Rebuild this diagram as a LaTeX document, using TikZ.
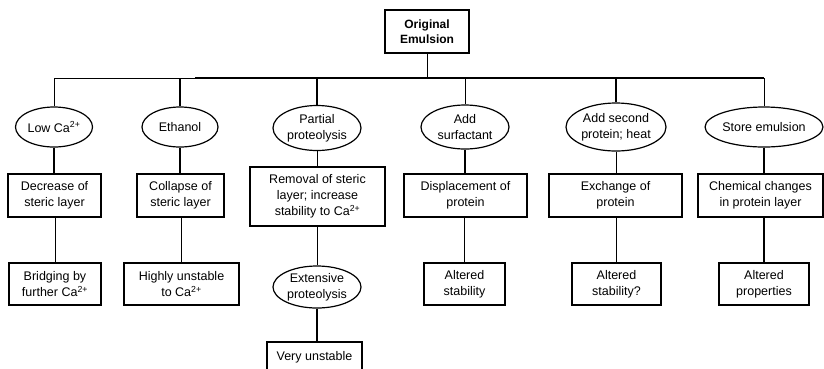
\documentclass[tikz,border=0pt]{standalone}
\usepackage{fontspec}
\setmainfont{Liberation Sans}
\usetikzlibrary{shapes.geometric}

\tikzset{
  every node/.style={font=\fontsize{12.5}{16}\selectfont, align=center, inner sep=0pt},
  stagebox/.style={draw, line width=1.3pt, rectangle},
  treatment/.style={draw, line width=1.2pt, ellipse},
  thinlink/.style={line width=0.9pt},
  thicklink/.style={line width=1.8pt}
}

\begin{document}
\begin{tikzpicture}[x=1pt,y=-1pt]

%picture frame
\clip (0,0) rectangle (824,368);

%label top box
\node[stagebox, minimum width=84, minimum height=43, font=\fontsize{12}{15}\selectfont\bfseries] (orig) at (427,31.5) {Original\\Emulsion};
\coordinate (bus) at (0,78);

%draw treatments
\node[treatment, minimum width=77, minimum height=40] (lowca) at (54,127) {Low Ca\textsuperscript{2+}};
\node[treatment, minimum width=76, minimum height=40] (ethanol) at (180,127) {Ethanol};
\node[treatment, minimum width=88, minimum height=45] (partial) at (317,128) {Partial\\proteolysis};
\node[treatment, minimum width=88, minimum height=44] (surfact) at (465,127) {Add\\surfactant};
\node[treatment, minimum width=100, minimum height=48] (second) at (616,127) {Add second\\protein; heat};
\node[treatment, minimum width=103, minimum height=40] (store) at (764,127) {Store emulsion};

%draw first effects
\node[stagebox, minimum width=93, minimum height=43] (decrease) at (54.5,195.5) {Decrease of\\steric layer};
\node[stagebox, minimum width=87, minimum height=43] (collapse) at (180.5,195.5) {Collapse of\\steric layer};
\node[stagebox, minimum width=135, minimum height=59] (removal) at (317.5,196.5) {Removal of steric\\layer; increase\\stability to Ca\textsuperscript{2+}};
\node[stagebox, minimum width=123, minimum height=43] (displace) at (465.5,195.5) {Displacement of\\protein};
\node[stagebox, minimum width=133, minimum height=43] (exchange) at (615.5,195.5) {Exchange of\\protein};
\node[stagebox, minimum width=125, minimum height=43] (chemical) at (760.5,195.5) {Chemical changes\\in protein layer};

%draw outcomes
\node[stagebox, minimum width=92, minimum height=42] (bridging) at (55,284) {Bridging by\\further Ca\textsuperscript{2+}};
\node[stagebox, minimum width=115, minimum height=42] (highly) at (181.5,284) {Highly unstable\\to Ca\textsuperscript{2+}};
\node[treatment, minimum width=88, minimum height=42] (extensive) at (317,287) {Extensive\\proteolysis};
\node[stagebox, minimum width=81, minimum height=42] (altstab) at (464.5,284) {Altered\\stability};
\node[stagebox, minimum width=89, minimum height=42] (altstabq) at (616.5,284) {Altered\\stability?};
\node[stagebox, minimum width=90, minimum height=42] (altprop) at (764,284) {Altered\\properties};
\node[stagebox, minimum width=95, minimum height=30] (veryun) at (314.5,357) {Very unstable};

%draw bus line
\draw[thinlink] (orig.south) -- (orig.south |- bus);
\draw[thinlink] (lowca.north |- bus) -- (195,78);
\draw[thicklink] (195,78) -- (store.north |- bus);

%draw drops to treatments
\foreach \n/\s in {lowca/thinlink, ethanol/thicklink, partial/thicklink, surfact/thinlink, second/thicklink, store/thinlink}
	{
	\draw[\s] (\n.north |- bus) -- (\n.north);
	}

%draw links to first effects
\foreach \a/\b/\s in {lowca/decrease/thicklink, ethanol/collapse/thicklink, partial/removal/thinlink, surfact/displace/thicklink, second/exchange/thinlink, store/chemical/thicklink}
	{
	\draw[\s] (\a.south) -- (\a.south |- \b.north);
	}

%draw links to outcomes
\foreach \a/\b/\s in {decrease/bridging/thinlink, collapse/highly/thicklink, removal/extensive/thinlink, displace/altstab/thicklink, exchange/altstabq/thicklink, chemical/altprop/thicklink}
	{
	\draw[\s] (\a.south -| \b.north) -- (\b.north);
	}
\draw[thicklink] (extensive.south) -- (extensive.south |- veryun.north);

\end{tikzpicture}
\end{document}
